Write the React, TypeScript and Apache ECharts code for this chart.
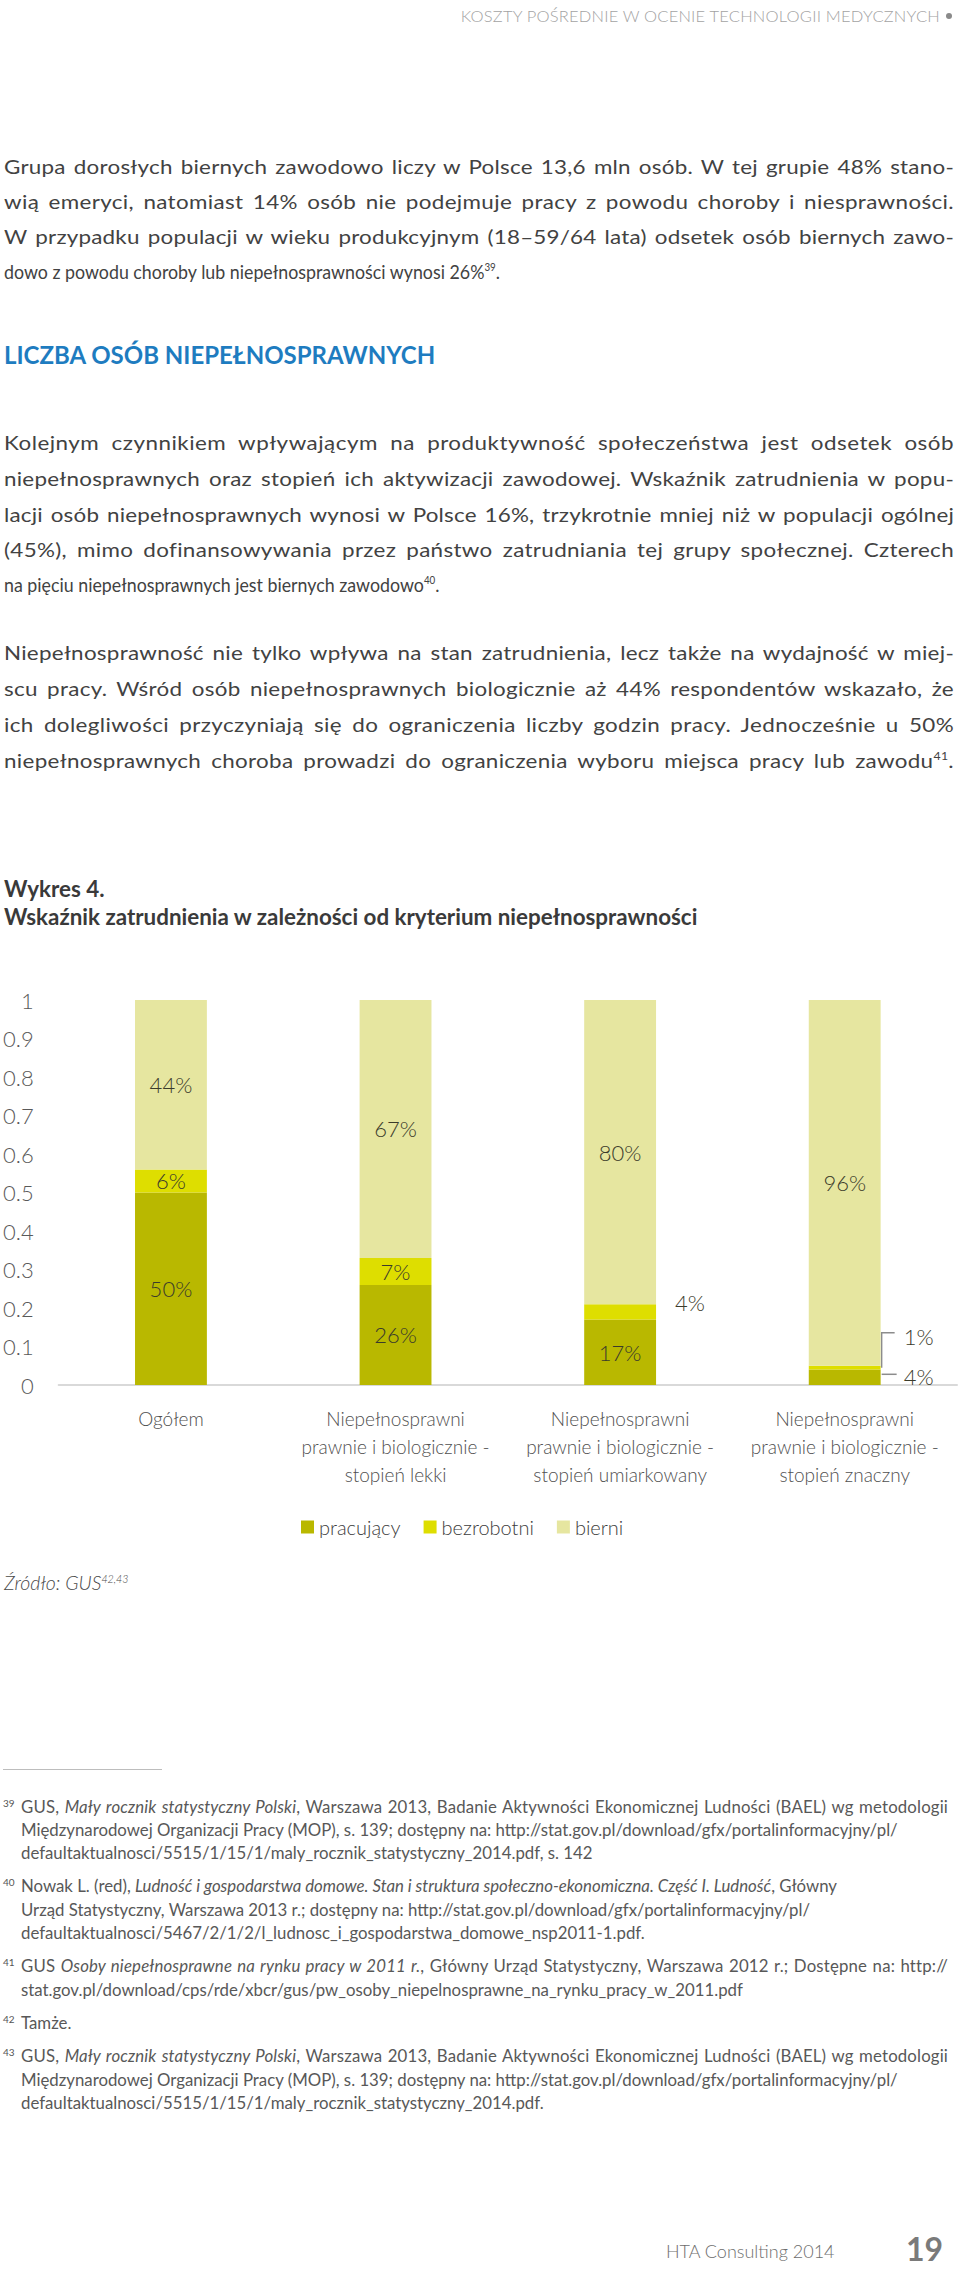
import React, { useEffect, useRef } from 'react';
import * as echarts from 'echarts';

// ---------- chart data ----------
const categories = [
  'Ogółem',
  'Niepełnosprawni\nprawnie i biologicznie -\nstopień lekki',
  'Niepełnosprawni\nprawnie i biologicznie -\nstopień umiarkowany',
  'Niepełnosprawni\nprawnie i biologicznie -\nstopień znaczny',
];
const seriesNames = ['pracujący', 'bezrobotni', 'bierni'];
const pracujacy = [50, 26, 17, 4];
const bezrobotni = [6, 7, 4, 1];
const bierni = [44, 67, 80, 96];
const seriesColors = ['#b9b800', '#dede00', '#e6e6a0'];

const chartTitle = 'Wykres 4.';
const chartSubtitle = 'Wskaźnik zatrudnienia w zależności od kryterium niepełnosprawności';

// ---------- page text ----------
const headerText = 'KOSZTY POŚREDNIE W OCENIE TECHNOLOGII MEDYCZNYCH';
const heading = 'LICZBA OSÓB NIEPEŁNOSPRAWNYCH';
type L = [string, number, boolean];
const para1: L[] = [
  ['Grupa dorosłych biernych zawodowo liczy w Polsce 13,6 mln osób. W tej grupie 48% stano-', 168, true],
  ['wią emeryci, natomiast 14% osób nie podejmuje pracy z powodu choroby i niesprawności.', 203, true],
  ['W przypadku populacji w wieku produkcyjnym (18–59/64 lata) odsetek osób biernych zawo-', 238, true],
  ['dowo z powodu choroby lub niepełnosprawności wynosi 26%^39^.', 273, false],
];
const para2: L[] = [
  ['Kolejnym czynnikiem wpływającym na produktywność społeczeństwa jest odsetek osób', 444, true],
  ['niepełnosprawnych oraz stopień ich aktywizacji zawodowej. Wskaźnik zatrudnienia w popu-', 480, true],
  ['lacji osób niepełnosprawnych wynosi w Polsce 16%, trzykrotnie mniej niż w populacji ogólnej', 516, true],
  ['(45%), mimo dofinansowywania przez państwo zatrudniania tej grupy społecznej. Czterech', 551, true],
  ['na pięciu niepełnosprawnych jest biernych zawodowo^40^.', 586, false],
];
const para3: L[] = [
  ['Niepełnosprawność nie tylko wpływa na stan zatrudnienia, lecz także na wydajność w miej-', 654, true],
  ['scu pracy. Wśród osób niepełnosprawnych biologicznie aż 44% respondentów wskazało, że', 690, true],
  ['ich dolegliwości przyczyniają się do ograniczenia liczby godzin pracy. Jednocześnie u 50%', 726, true],
  ['niepełnosprawnych choroba prowadzi do ograniczenia wyboru miejsca pracy lub zawodu^41^.', 762, true],
];
const sourceText = '*Źródło: GUS^42,43^*';
type F = { num: string; y: number[]; lines: string[]; just: boolean[] };
const footnotes: F[] = [
  {
    num: '39',
    y: [1809, 1832, 1855],
    lines: [
      'GUS, *Mały rocznik statystyczny Polski*, Warszawa 2013, Badanie Aktywności Ekonomicznej Ludności (BAEL) wg metodologii',
      'Międzynarodowej Organizacji Pracy (MOP), s. 139; dostępny na: http://stat.gov.pl/download/gfx/portalinformacyjny/pl/',
      'defaultaktualnosci/5515/1/15/1/maly_rocznik_statystyczny_2014.pdf, s. 142',
    ],
    just: [true, false, false],
  },
  {
    num: '40',
    y: [1888, 1912, 1935],
    lines: [
      'Nowak L. (red), *Ludność i gospodarstwa domowe. Stan i struktura społeczno-ekonomiczna. Część I. Ludność*, Główny',
      'Urząd Statystyczny, Warszawa 2013 r.; dostępny na: http://stat.gov.pl/download/gfx/portalinformacyjny/pl/',
      'defaultaktualnosci/5467/2/1/2/l_ludnosc_i_gospodarstwa_domowe_nsp2011-1.pdf.',
    ],
    just: [false, false, false],
  },
  {
    num: '41',
    y: [1968, 1992],
    lines: [
      'GUS *Osoby niepełnosprawne na rynku pracy w 2011 r.*, Główny Urząd Statystyczny, Warszawa 2012 r.; Dostępne na: http://',
      'stat.gov.pl/download/cps/rde/xbcr/gus/pw_osoby_niepelnosprawne_na_rynku_pracy_w_2011.pdf',
    ],
    just: [true, false],
  },
  { num: '42', y: [2025], lines: ['Tamże.'], just: [false] },
  {
    num: '43',
    y: [2058, 2082, 2105],
    lines: [
      'GUS, *Mały rocznik statystyczny Polski*, Warszawa 2013, Badanie Aktywności Ekonomicznej Ludności (BAEL) wg metodologii',
      'Międzynarodowej Organizacji Pracy (MOP), s. 139; dostępny na: http://stat.gov.pl/download/gfx/portalinformacyjny/pl/',
      'defaultaktualnosci/5515/1/15/1/maly_rocznik_statystyczny_2014.pdf.',
    ],
    just: [true, false, false],
  },
];

const FONT = 'Lato, "Open Sans", sans-serif';

let measureCtx: CanvasRenderingContext2D | null = null;
function splitRich(text: string) {
  return text.split(/(\^[^^]*\^|\*[^*]*\*)/).filter((p) => p !== '');
}
function measureRich(text: string, size: number, weight: number, italic = false): { w: number; n: number } {
  if (!measureCtx) measureCtx = document.createElement('canvas').getContext('2d');
  let w = 0;
  let n = 0;
  for (const p of splitRich(text)) {
    if (p.startsWith('^')) {
      const s = p.slice(1, -1);
      measureCtx!.font = `${italic ? 'italic ' : ''}${weight} ${size * 0.55}px Lato`;
      w += measureCtx!.measureText(s).width;
      n += s.length;
    } else if (p.startsWith('*')) {
      const r = measureRich(p.slice(1, -1), size, weight, true);
      w += r.w;
      n += r.n;
    } else {
      measureCtx!.font = `${italic ? 'italic ' : ''}${weight} ${size}px Lato`;
      w += measureCtx!.measureText(p).width;
      n += p.length;
    }
  }
  return { w, n };
}

function renderRich(text: string): React.ReactNode[] {
  return splitRich(text).map((p, i) => {
    if (p.startsWith('^')) {
      return (
        <sup key={i} style={{ fontSize: '0.55em', lineHeight: 0, verticalAlign: 'super' }}>
          {p.slice(1, -1)}
        </sup>
      );
    }
    if (p.startsWith('*')) {
      return (
        <i key={i} style={{ fontStyle: 'italic' }}>
          {renderRich(p.slice(1, -1))}
        </i>
      );
    }
    return <React.Fragment key={i}>{p}</React.Fragment>;
  });
}

function Line(props: {
  text: string;
  cy: number;
  justify?: boolean;
  left?: number;
  width?: number;
  size?: number;
  lh?: number;
  weight?: number;
  spread?: number;
  condense?: number;
  maxStretch?: number;
  style?: React.CSSProperties;
}) {
  const {
    text,
    cy,
    justify = false,
    left = 4,
    width = 950,
    size = 20,
    lh = 30,
    weight = 400,
    spread = 0.5,
    condense = 1,
    maxStretch = 1,
    style,
  } = props;
  let sx = condense;
  let letterSpacing = 0;
  if (justify) {
    const { w, n } = measureRich(text, size, weight);
    sx = Math.min(maxStretch, width / w);
    const inner = width / sx;
    const extra = inner - w - 1;
    letterSpacing = extra > 0 ? (extra * spread) / n : extra / n;
  }
  const innerWidth = width / sx;
  return (
    <div
      style={{
        position: 'absolute',
        left,
        width: innerWidth,
        top: cy - lh / 2 - 2,
        height: lh,
        lineHeight: lh + 'px',
        fontSize: size,
        fontWeight: weight,
        whiteSpace: 'nowrap',
        letterSpacing: letterSpacing ? letterSpacing + 'px' : undefined,
        textAlign: justify ? 'justify' : 'left',
        textAlignLast: justify ? 'justify' : 'left',
        transform: Math.abs(sx - 1) > 1e-3 ? `scaleX(${sx})` : undefined,
        transformOrigin: 'left center',
        ...style,
      }}
    >
      {renderRich(text)}
    </div>
  );
}

export default function App() {
  const ref = useRef<HTMLDivElement>(null);

  useEffect(() => {
    const chart = echarts.init(ref.current!, null, { renderer: 'svg' });
    const labelBase = {
      show: true,
      position: 'inside' as const,
      fontFamily: FONT,
      fontSize: 22,
      fontWeight: 300 as any,
      color: '#3b3b2b',
    };
    const pct = (arr: number[]) => (p: any) => arr[p.dataIndex] + '%';
    const mkData = (arr: number[], overrides: Record<number, any>) =>
      arr.map((v, i) => (overrides[i] ? { value: v / 100, label: overrides[i] } : v / 100));

    chart.setOption({
      animation: false,
      textStyle: { fontFamily: FONT },
      grid: { left: 57, right: 3, top: 140, height: 385 },
      legend: {
        data: seriesNames,
        left: 301,
        top: 657,
        padding: 0,
        itemWidth: 13,
        itemHeight: 13,
        itemGap: 23,
        icon: 'rect',
        textStyle: { fontFamily: FONT, fontSize: 20, fontWeight: 300, color: '#3d3d3d' },
      },
      xAxis: {
        type: 'category',
        data: categories,
        axisLine: { lineStyle: { color: '#d9d9d9', width: 2 } },
        axisTick: { show: false },
        axisLabel: {
          interval: 0,
          fontFamily: FONT,
          fontSize: 19,
          fontWeight: 300,
          lineHeight: 28,
          color: '#505050',
          margin: 19,
        },
      },
      yAxis: {
        type: 'value',
        min: 0,
        max: 1,
        interval: 0.1,
        splitLine: { show: false },
        axisLine: { show: false },
        axisTick: { show: false },
        axisLabel: {
          margin: 25,
          fontFamily: FONT,
          fontSize: 22,
          fontWeight: 300,
          color: '#595959',
          formatter: (v: number) => String(+v.toFixed(1)),
        },
      },
      series: [
        {
          name: seriesNames[0],
          type: 'bar',
          stack: 'total',
          barWidth: '32%',
          itemStyle: { color: seriesColors[0] },
          label: { ...labelBase, formatter: pct(pracujacy) },
          data: mkData(pracujacy, { 3: { position: 'right', distance: 23, offset: [0, -1] } }),
        },
        {
          name: seriesNames[1],
          type: 'bar',
          stack: 'total',
          barWidth: '32%',
          itemStyle: { color: seriesColors[1] },
          label: { ...labelBase, formatter: pct(bezrobotni) },
          data: mkData(bezrobotni, {
            2: { position: 'right', distance: 19, offset: [0, -9] },
            3: { position: 'right', distance: 23, offset: [0, -31] },
          }),
        },
        {
          name: seriesNames[2],
          type: 'bar',
          stack: 'total',
          barWidth: '32%',
          itemStyle: { color: seriesColors[2] },
          label: { ...labelBase, formatter: pct(bierni) },
          data: mkData(bierni, {}),
        },
      ],
    });

    // leader lines for the small labels of the last bar, through the chart's scales
    const xOf = (i: number) => chart.convertToPixel({ xAxisIndex: 0 }, i) as number;
    const yOf = (v: number) => chart.convertToPixel({ yAxisIndex: 0 }, v) as number;
    const band = xOf(1) - xOf(0);
    const last = 3;
    const right = xOf(last) + (band * 0.32) / 2 + 1;
    const yWork = yOf(pracujacy[last] / 200);
    const yUnemp = yOf((pracujacy[last] + bezrobotni[last] / 2) / 100);
    const yTop = yUnemp - 35;
    const lineStyle = { stroke: '#8c8c8c', lineWidth: 1.5, fill: 'none' };

    chart.setOption({
      graphic: [
        {
          type: 'text',
          x: 4,
          y: 28,
          style: { text: chartTitle, font: `bold 22.4px ${FONT}`, fill: '#3a3a3a', verticalAlign: 'middle' },
        },
        {
          type: 'text',
          x: 4,
          y: 56,
          style: { text: chartSubtitle, font: `bold 22.4px ${FONT}`, fill: '#3a3a3a', verticalAlign: 'middle' },
        },
        {
          type: 'polyline',
          shape: { points: [[right, yUnemp], [right, yTop], [right + 13, yTop]] },
          style: lineStyle,
        },
        {
          type: 'polyline',
          shape: { points: [[right, yWork - 3], [right + 15, yWork - 3]] },
          style: lineStyle,
        },
      ],
    });

    return () => chart.dispose();
  }, []);

  const bodyColor = '#424242';
  const BODY = { size: 20, condense: 0.89, spread: 0.45, maxStretch: 1.12 };

  return (
    <div
      style={{
        position: 'absolute',
        left: 0,
        top: 0,
        width: 960,
        height: 2272,
        background: '#ffffff',
        fontFamily: FONT,
        color: bodyColor,
        overflow: 'hidden',
      }}
    >
      {/* running header */}
      <div
        style={{
          position: 'absolute',
          right: 20,
          top: 5,
          height: 22,
          lineHeight: '22px',
          fontSize: 16.5,
          fontWeight: 300,
          letterSpacing: 0.2,
          color: '#a3a3a3',
          whiteSpace: 'nowrap',
        }}
      >
        {headerText}
      </div>
      <div
        style={{
          position: 'absolute',
          left: 946,
          top: 13,
          width: 6,
          height: 6,
          borderRadius: 3,
          background: '#8a8a8a',
        }}
      />

      {para1.map(([t, y, j], i) => (
        <Line key={'p1' + i} text={t} cy={y} justify={j} {...BODY} />
      ))}

      <Line text={heading} cy={357} size={24} weight={700} style={{ color: '#1e7cc0' }} />

      {para2.map(([t, y, j], i) => (
        <Line key={'p2' + i} text={t} cy={y} justify={j} {...BODY} />
      ))}
      {para3.map(([t, y, j], i) => (
        <Line key={'p3' + i} text={t} cy={y} justify={j} {...BODY} />
      ))}

      <div ref={ref} style={{ position: 'absolute', left: 0, top: 860, width: 960, height: 750 }} />

      <Line text={sourceText} cy={1585} size={19.5} weight={300} style={{ color: '#4a4a4a' }} />

      {/* footnote separator */}
      <div style={{ position: 'absolute', left: 3, top: 1769, width: 159, height: 1, background: '#bdbdbd' }} />

      {footnotes.map((f) => (
        <React.Fragment key={f.num}>
          <div
            style={{
              position: 'absolute',
              left: 3,
              top: f.y[0] - 12,
              fontSize: 10,
              lineHeight: '12px',
              color: '#555',
              fontWeight: 400,
            }}
          >
            {f.num}
          </div>
          {f.lines.map((t, i) => (
            <Line
              key={i}
              text={t}
              cy={f.y[i]}
              justify={f.just[i]}
              left={21}
              width={927}
              size={16.8}
              lh={22}
              weight={400}
              spread={0.6}
              style={{ color: '#585858' }}
            />
          ))}
        </React.Fragment>
      ))}

      {/* footer */}
      <Line text="HTA Consulting 2014" cy={2253} left={666} width={200} size={18} weight={300} style={{ color: '#6e6e6e' }} />
      <Line text="19" cy={2251} left={906} width={50} size={32} lh={40} weight={700} style={{ color: '#7a7a7a' }} />
    </div>
  );
}
